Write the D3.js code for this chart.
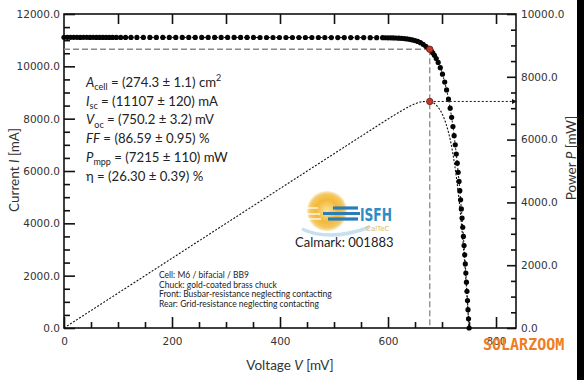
<!DOCTYPE html>
<html><head><meta charset="utf-8">
<script src="https://cdn.jsdelivr.net/npm/d3@7"></script>
<style>body{margin:0;background:#fff;} svg{display:block;}</style>
</head><body>
<svg id="chart" width="584" height="380"></svg>
<script>
// ---- data (voltage in mV, current in mA) ----
const voltage = [0,6,12,18,24,30,36,42,48,54,60,66,72,78,84,90,
  97,105,114,124,135,
  147,159,171,183,195,207,219,231,243,255,267,279,291,303,315,327,339,351,363,375,387,399,411,423,435,447,459,471,483,495,507,519,531,543,555,567,579,
  590,595,600,605,610,615,620,625,630,635,640,645,650,655,660,665,670,675,
  677.3,680,
  682.8,686.0,689.3,692.9,696.8,700.9,705.0,708.5,712.0,715.1,717.8,720.2,722.4,724.5,726.4,728.2,729.9,731.5,733.0,734.4,735.8,737.1,738.4,739.6,740.8,742.0,743.1,744.1,745.2,746.2,747.2,748.1,749.1,750.2];
const current = [11107,11107,11108,11107,11107,11106,11107,11107,11106,11107,11106,11106,11106,11106,11106,11106,
  11106,11106,11106,11106,11105,
  11105,11105,11105,11105,11105,11104,11104,11104,11104,11104,11104,11103,11103,11103,11103,11103,11103,11103,11102,11102,11102,11102,11102,11102,11101,11101,11101,11101,11101,11100,11100,11100,11099,11099,11098,11097,11096,
  11094,11093,11091,11089,11086,11082,11076,11069,11059,11047,11031,11011,10985,10952,10905,10840,10765,10690,
  10653,10595,
  10520,10420,10300,10150,9950,9700,9400,9100,8750,8400,8050,7700,7350,7000,6650,6300,5950,5600,5250,4900,4550,4200,3850,3500,3150,2800,2450,2100,1750,1400,1050,700,350,0];
const mppVoltage = [677.3];
const mppCurrent = [10653];
const mppPower = [7215];
const xTickLabels = [0,200,400,600,800];
const currentTicks = [0,2000,4000,6000,8000,10000,12000];
const powerTicks = [0,2000,4000,6000,8000,10000];

const svg = d3.select("#chart");
const L = 64, R = 516, T = 14, B = 328;
const x = d3.scaleLinear().domain([0, 837]).range([L, R]);
const yI = d3.scaleLinear().domain([0, 12000]).range([B, T]);
const yP = d3.scaleLinear().domain([0, 10000]).range([B, T]);

const pts = voltage.map((v, i) => ({v, c: current[i], p: v * current[i] / 1000}));

svg.append("rect").attr("width", 584).attr("height", 380).attr("fill", "#fff");
svg.append("rect").attr("x", 577).attr("y", 0).attr("width", 7).attr("height", 380).attr("fill", "#000");

const tickFont = "DejaVu Sans, Verdana, sans-serif";
function styleAxis(g, labels) {
  g.select(".domain").remove();
  g.selectAll(".tick line").attr("stroke", "#111").attr("stroke-width", 1.6);
  if (labels) g.selectAll(".tick text").attr("font-family", tickFont).attr("font-size", 10.5).attr("fill", "#333");
  else g.selectAll(".tick text").remove();
}
const f1 = d3.format(".1f");
// left
svg.append("g").attr("transform", `translate(${L},0)`)
  .call(d3.axisLeft(yI).tickValues(currentTicks).tickSize(-11).tickPadding(4).tickFormat(f1)).call(g => styleAxis(g, true));
svg.append("g").attr("transform", `translate(${L},0)`)
  .call(d3.axisLeft(yI).tickValues(d3.range(500, 12000, 500).filter(d => d % 2000)).tickSize(-6)).call(g => styleAxis(g, false));
// right
svg.append("g").attr("transform", `translate(${R},0)`)
  .call(d3.axisRight(yP).tickValues(powerTicks).tickSize(-9).tickPadding(5).tickFormat(f1)).call(g => styleAxis(g, true));
svg.append("g").attr("transform", `translate(${R},0)`)
  .call(d3.axisRight(yP).tickValues(d3.range(500, 10000, 500).filter(d => d % 2000)).tickSize(-5)).call(g => styleAxis(g, false));
// bottom
svg.append("g").attr("transform", `translate(0,${B})`)
  .call(d3.axisBottom(x).tickValues(xTickLabels).tickSize(-11).tickPadding(10).tickFormat(d3.format("d"))).call(g => styleAxis(g, true));
svg.append("g").attr("transform", `translate(0,${B})`)
  .call(d3.axisBottom(x).tickValues(d3.range(50, 837, 50).filter(d => d % 200)).tickSize(-6)).call(g => styleAxis(g, false));
// top
svg.append("g").attr("transform", `translate(0,${T})`)
  .call(d3.axisTop(x).tickValues(d3.range(100, 837, 100)).tickSize(-10)).call(g => styleAxis(g, false));

// frame
svg.append("rect").attr("x", L).attr("y", T).attr("width", R - L).attr("height", B - T)
  .attr("fill", "none").attr("stroke", "#111").attr("stroke-width", 1.6);

// guide lines at MPP
const mx = x(mppVoltage[0]), myI = yI(mppCurrent[0]), myP = yP(mppPower[0]);
svg.append("line").attr("x1", L).attr("x2", mx).attr("y1", myI).attr("y2", myI)
  .attr("stroke", "#8a8a8a").attr("stroke-width", 1.3).attr("stroke-dasharray", "6,3");
svg.append("line").attr("x1", mx).attr("x2", mx).attr("y1", myI).attr("y2", B)
  .attr("stroke", "#8a8a8a").attr("stroke-width", 1.3).attr("stroke-dasharray", "6,3");
svg.append("line").attr("x1", mx).attr("x2", R).attr("y1", myP).attr("y2", myP)
  .attr("stroke", "#111").attr("stroke-width", 1).attr("stroke-dasharray", "2,2");
svg.append("path").attr("d", `M${R - 4},${myP - 2.5}L${R + 1},${myP}L${R - 4},${myP + 2.5}Z`).attr("fill", "#111");

// power curve
svg.append("path").datum(pts)
  .attr("d", d3.line().x(d => x(d.v)).y(d => yP(d.p)))
  .attr("fill", "none").attr("stroke", "#111").attr("stroke-width", 1.1).attr("stroke-dasharray", "2,1.6");
// IV curve
svg.append("path").datum(pts)
  .attr("d", d3.line().x(d => x(d.v)).y(d => yI(d.c)))
  .attr("fill", "none").attr("stroke", "#111").attr("stroke-width", 1).attr("stroke-dasharray", "2,2");
svg.append("g").selectAll("circle").data(pts).join("circle")
  .attr("cx", d => x(d.v)).attr("cy", d => yI(d.c)).attr("r", 2.6).attr("fill", "#050505");

// mpp markers
svg.append("circle").attr("cx", mx).attr("cy", myI).attr("r", 3.2).attr("fill", "#c0392b").attr("stroke", "#6b1a12").attr("stroke-width", 0.8);
svg.append("circle").attr("cx", mx).attr("cy", myP).attr("r", 3.2).attr("fill", "#c0392b").attr("stroke", "#6b1a12").attr("stroke-width", 0.8);

// parameter block
const txtFont = "Lato, 'Open Sans', sans-serif";
const params = [
  [["A", "i"], ["cell", "s"], [" = (274.3 ± 1.1) cm", ""], ["2", "p"]],
  [["I", "i"], ["sc", "s"], [" = (11107 ± 120) mA", ""]],
  [["V", "i"], ["oc", "s"], [" = (750.2 ± 3.2) mV", ""]],
  [["FF", "i"], [" = (86.59 ± 0.95) %", ""]],
  [["P", "i"], ["mpp", "s"], [" = (7215 ± 110) mW", ""]],
  [["η = (26.30 ± 0.39) %", ""]]
];
params.forEach((line, i) => {
  const t = svg.append("text").attr("x", 86).attr("y", 86.7 + i * 18.8)
    .attr("font-family", txtFont).attr("font-size", 13.2).attr("fill", "#222");
  let shift = 0;
  line.forEach(([s, k]) => {
    const sp = t.append("tspan").text(s);
    let target = 0;
    if (k === "i") sp.attr("font-style", "italic");
    if (k === "s") { sp.attr("font-size", 9); target = 3.2; }
    if (k === "p") { sp.attr("font-size", 9); target = -5.5; }
    sp.attr("dy", target - shift); shift = target;
  });
});

// logo
const defs = svg.append("defs");
const rg = defs.append("radialGradient").attr("id", "sun");
rg.append("stop").attr("offset", "0%").attr("stop-color", "#fbe3a0");
rg.append("stop").attr("offset", "55%").attr("stop-color", "#f2b93a");
rg.append("stop").attr("offset", "85%").attr("stop-color", "#f4c862");
rg.append("stop").attr("offset", "100%").attr("stop-color", "#fbeccc");
svg.append("path").attr("d", "M302,229 Q330,242 370,227").attr("fill", "none")
  .attr("stroke", "#b9d8ec").attr("stroke-width", 3.5).attr("opacity", 0.8);
svg.append("circle").attr("cx", 327).attr("cy", 211).attr("r", 20).attr("fill", "url(#sun)");
[[306, 318, 208], [305, 320, 214], [307, 321, 219]].forEach(([a, b, yy]) =>
  svg.append("line").attr("x1", a).attr("x2", b).attr("y1", yy).attr("y2", yy).attr("stroke", "#fff").attr("stroke-width", 1.6).attr("opacity", 0.8));
[[333, 358, 208], [323, 360, 213.5], [328, 358, 219]].forEach(([a, b, yy]) =>
  svg.append("line").attr("x1", a).attr("x2", b).attr("y1", yy).attr("y2", yy).attr("stroke", "#2b7db6").attr("stroke-width", 3.2));
svg.append("text").attr("x", 360).attr("y", 221).attr("font-family", "'Liberation Sans Narrow', 'DejaVu Sans Condensed', sans-serif")
  .attr("font-weight", "bold").attr("font-size", 18).attr("fill", "#2e8cc4")
  .attr("textLength", 32).attr("lengthAdjust", "spacingAndGlyphs").text("ISFH");
svg.append("text").attr("x", 366).attr("y", 231).attr("font-family", "DejaVu Sans, sans-serif")
  .attr("font-size", 7).attr("fill", "#e2bd58").text("CalTeC");
svg.append("text").attr("x", 295).attr("y", 247).attr("font-family", txtFont)
  .attr("font-size", 13).attr("fill", "#222").text("Calmark: 001883");

// cell info
const info = ["Cell: M6 / bifacial / BB9", "Chuck: gold-coated brass chuck",
  "Front: Busbar-resistance neglecting contacting", "Rear: Grid-resistance neglecting contacting"];
info.forEach((s, i) => svg.append("text").attr("x", 159).attr("y", 278 + i * 9.5)
  .attr("font-family", txtFont).attr("font-size", 8.5).attr("fill", "#222").text(s));

// axis titles
function title(tx, ty, rot, parts) {
  const t = svg.append("text").attr("transform", `translate(${tx},${ty}) rotate(${rot})`)
    .attr("text-anchor", "middle").attr("font-family", txtFont).attr("font-size", 13.5).attr("fill", "#333");
  parts.forEach(([s, it]) => { const sp = t.append("tspan").text(s); if (it) sp.attr("font-style", "italic"); });
}
title(19, 170, -90, [["Current ", 0], ["I", 1], [" [mA]", 0]]);
title(290, 370, 0, [["Voltage ", 0], ["V", 1], [" [mV]", 0]]);
title(576, 158, -90, [["Power ", 0], ["P", 1], [" [mW]", 0]]);

// watermark
svg.append("text").attr("x", 483).attr("y", 350).attr("font-family", "'DejaVu Sans Mono', monospace")
  .attr("font-weight", "bold").attr("font-size", 15).attr("fill", "#ef7d22").text("SOLARZOOM");
</script>
</body></html>
